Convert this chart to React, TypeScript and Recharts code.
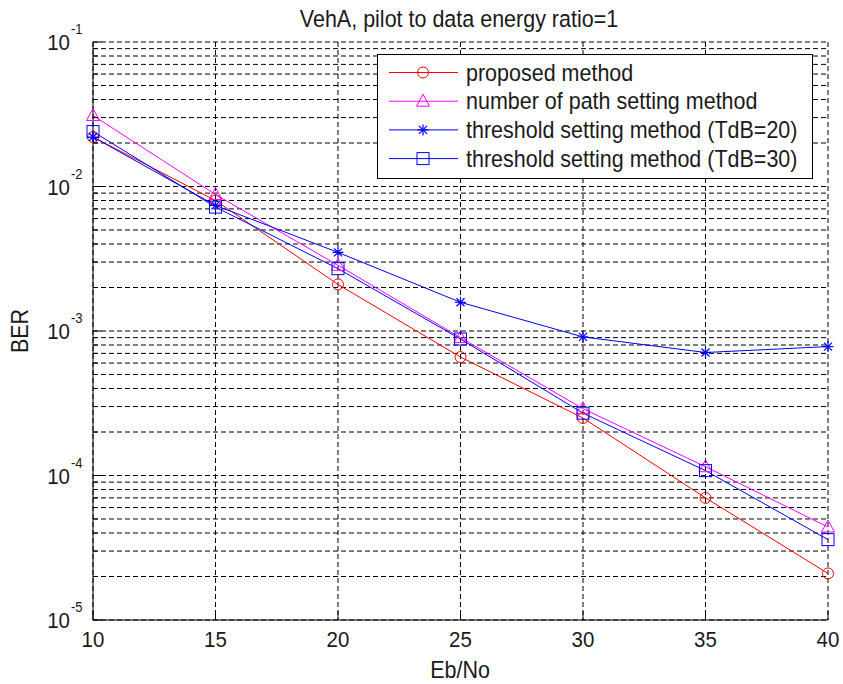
import React from 'react';
import { LineChart, Line, XAxis, YAxis, CartesianGrid, Legend } from 'recharts';

const EBNO = [10, 15, 20, 25, 30, 35, 40];
const PROPOSED = [2.2e-2, 8.0e-3, 2.1e-3, 6.6e-4, 2.5e-4, 7.0e-5, 2.1e-5];
const PATH_SETTING = [3.1e-2, 8.8e-3, 2.85e-3, 9.0e-4, 2.9e-4, 1.15e-4, 4.4e-5];
const THRESH_20 = [2.2e-2, 7.4e-3, 3.5e-3, 1.58e-3, 9.1e-4, 7.1e-4, 7.8e-4];
const THRESH_30 = [2.4e-2, 7.2e-3, 2.7e-3, 8.8e-4, 2.7e-4, 1.08e-4, 3.6e-5];

const X_TICKS = [10, 15, 20, 25, 30, 35, 40];
const Y_TICKS = [
  1e-5, 2e-5, 3e-5, 4e-5, 5e-5, 6e-5, 7e-5, 8e-5, 9e-5,
  1e-4, 2e-4, 3e-4, 4e-4, 5e-4, 6e-4, 7e-4, 8e-4, 9e-4,
  1e-3, 2e-3, 3e-3, 4e-3, 5e-3, 6e-3, 7e-3, 8e-3, 9e-3,
  1e-2, 2e-2, 3e-2, 4e-2, 5e-2, 6e-2, 7e-2, 8e-2, 9e-2,
  1e-1,
];
const DECADE_LABELS: Record<string, string> = {
  '0.00001': '-5',
  '0.0001': '-4',
  '0.001': '-3',
  '0.01': '-2',
  '0.1': '-1',
};

const TITLE = 'VehA, pilot to data energy ratio=1';
const X_LABEL = 'Eb/No';
const Y_LABEL = 'BER';

const SERIES = [
  { key: 'proposed', name: 'proposed method', color: '#ff0000', marker: 'circle', values: PROPOSED },
  { key: 'path', name: 'number of path setting method', color: '#ff00ff', marker: 'triangle', values: PATH_SETTING },
  { key: 't20', name: 'threshold setting method (TdB=20)', color: '#0000ff', marker: 'star', values: THRESH_20 },
  { key: 't30', name: 'threshold setting method (TdB=30)', color: '#0000ff', marker: 'square', values: THRESH_30 },
];

const data = EBNO.map((x, i) => {
  const row: Record<string, number> = { x };
  SERIES.forEach((s) => {
    row[s.key] = s.values[i];
  });
  return row;
});

const W = 843;
const H = 684;
const Y_AXIS_W = 93;
const X_AXIS_H = 64;
const MARGIN = { top: 42, right: 15, bottom: 0, left: 0 };
const PLOT_LEFT = MARGIN.left + Y_AXIS_W;
const PLOT_BOTTOM = H - MARGIN.bottom - X_AXIS_H;
const FONT = '"Liberation Sans", Arial, sans-serif';
const TEXT = '#1a1a1a';
const STRETCH = 1.12; // the original glyphs are a bit taller than Arial

// text drawn slightly stretched vertically, anchored at its baseline
function Txt({ x, y, size, anchor = 'start', rotate = 0, children }: any) {
  const tf = `translate(${x} ${y}) rotate(${rotate}) scale(1 ${STRETCH})`;
  return (
    <text transform={tf} textAnchor={anchor} fontFamily={FONT} fontSize={size} fill={TEXT}>
      {children}
    </text>
  );
}

function Marker({ cx, cy, type, color }: { cx: number; cy: number; type: string; color: string }) {
  if (cx == null || cy == null) return null;
  if (type === 'circle') {
    return <circle cx={cx} cy={cy} r={5.5} fill="none" stroke={color} strokeWidth={1} />;
  }
  if (type === 'square') {
    return <rect x={cx - 6} y={cy - 6} width={12} height={12} fill="none" stroke={color} strokeWidth={1} />;
  }
  if (type === 'triangle') {
    return (
      <polygon
        points={`${cx},${cy - 7} ${cx - 6.5},${cy + 5} ${cx + 6.5},${cy + 5}`}
        fill="none"
        stroke={color}
        strokeWidth={1}
      />
    );
  }
  const r = 5.5;
  const d = 4;
  return (
    <g stroke={color} strokeWidth={1.2}>
      <line x1={cx - r} y1={cy} x2={cx + r} y2={cy} />
      <line x1={cx} y1={cy - r} x2={cx} y2={cy + r} />
      <line x1={cx - d} y1={cy - d} x2={cx + d} y2={cy + d} />
      <line x1={cx - d} y1={cy + d} x2={cx + d} y2={cy - d} />
    </g>
  );
}

function YTick(props: any) {
  const { y, payload } = props;
  const exp = DECADE_LABELS[String(payload.value)];
  const len = exp ? 9 : 5;
  return (
    <g>
      <line x1={PLOT_LEFT} y1={y} x2={PLOT_LEFT + len} y2={y} stroke="#000" />
      {exp && (
        <g>
          <Txt x={70} y={y + 8} size={20.5} anchor="end">10</Txt>
          <Txt x={71} y={y - 8} size={13}>{exp}</Txt>
        </g>
      )}
    </g>
  );
}

function XTick(props: any) {
  const { x, payload } = props;
  return (
    <g>
      <line x1={x} y1={PLOT_BOTTOM} x2={x} y2={PLOT_BOTTOM - 9} stroke="#000" />
      <Txt x={x} y={PLOT_BOTTOM + 27} size={20.5} anchor="middle">{payload.value}</Txt>
    </g>
  );
}

function LegendBox() {
  const rowY = [18.5, 47.2, 75.9, 104.6];
  return (
    <svg width={437} height={126} style={{ display: 'block' }}>
      <rect x={0.5} y={0.5} width={435} height={124} fill="#fff" stroke="#000" />
      {SERIES.map((s, i) => (
        <g key={s.key}>
          <line x1={12} y1={rowY[i]} x2={81} y2={rowY[i]} stroke={s.color} strokeWidth={1} />
          <Marker cx={46} cy={rowY[i]} type={s.marker} color={s.color} />
          <Txt x={89} y={rowY[i] + 8} size={21.5}>{s.name}</Txt>
        </g>
      ))}
    </svg>
  );
}

export default function App() {
  return (
    <div style={{ position: 'absolute', left: 0, top: 0, width: W, height: H, background: '#fff' }}>
      <LineChart width={W} height={H} data={data} margin={MARGIN}>
        <CartesianGrid stroke="#000" strokeDasharray="5 3" strokeWidth={1} />
        <XAxis
          dataKey="x"
          type="number"
          domain={[10, 40]}
          ticks={X_TICKS}
          height={X_AXIS_H}
          interval={0}
          axisLine={{ stroke: '#000' }}
          tickLine={false}
          tick={<XTick />}
        />
        <YAxis
          type="number"
          scale="log"
          domain={[1e-5, 1e-1]}
          ticks={Y_TICKS}
          allowDataOverflow
          width={Y_AXIS_W}
          interval={0}
          axisLine={{ stroke: '#000' }}
          tickLine={false}
          tick={<YTick />}
        />
        <Legend
          layout="horizontal"
          verticalAlign="middle"
          align="center"
          content={() => <LegendBox />}
          wrapperStyle={{ position: 'absolute', left: 377, top: 54, width: 437, height: 126 }}
        />
        {SERIES.map((s) => (
          <Line
            key={s.key}
            dataKey={s.key}
            name={s.name}
            type="linear"
            stroke={s.color}
            strokeWidth={1}
            isAnimationActive={false}
            dot={(p: any) => <Marker key={`${s.key}-${p.index}`} cx={p.cx} cy={p.cy} type={s.marker} color={s.color} />}
            activeDot={false}
          />
        ))}
        <Txt x={459} y={27} size={21.5} anchor="middle">{TITLE}</Txt>
        <Txt x={460} y={678} size={21.5} anchor="middle">{X_LABEL}</Txt>
        <Txt x={28} y={331} size={21.5} anchor="middle" rotate={-90}>{Y_LABEL}</Txt>
      </LineChart>
    </div>
  );
}
